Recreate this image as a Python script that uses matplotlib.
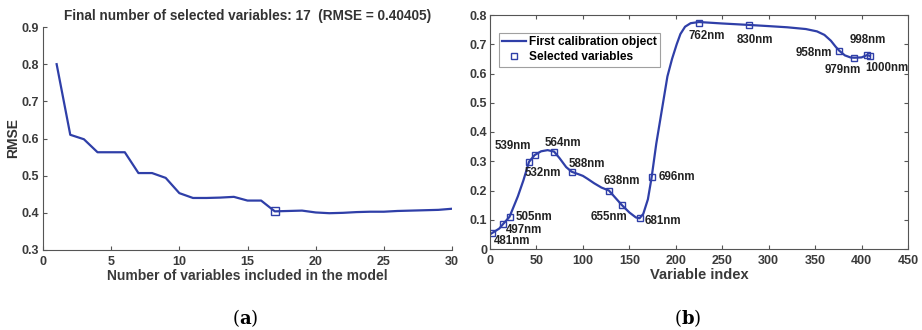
import matplotlib
matplotlib.use("Agg")
import matplotlib.pyplot as plt

# ---- Panel (a): RMSE vs. number of variables ----
n_vars = list(range(1, 31))
rmse = [0.800, 0.610, 0.598, 0.563, 0.563, 0.563, 0.507, 0.507, 0.494, 0.453,
        0.440, 0.440, 0.441, 0.443, 0.433, 0.433, 0.404, 0.405, 0.406, 0.401,
        0.399, 0.400, 0.402, 0.403, 0.403, 0.405, 0.406, 0.407, 0.408, 0.411]
final_n = 17
final_rmse = 0.40405

# ---- Panel (b): calibration spectrum and selected variables ----
spec_idx = [0, 2, 10, 14, 21, 30, 36, 42, 48, 55, 62, 69, 75, 82, 88, 95, 100,
            105, 112, 120, 128, 135, 142, 150, 157, 161, 165, 170, 174, 179,
            185, 191, 196, 201, 205, 210, 216, 225, 250, 279, 300, 320, 340,
            352, 360, 367, 372, 376, 382, 388, 392, 400, 406, 409]
spec_val = [0.050, 0.054, 0.070, 0.085, 0.110, 0.180, 0.235, 0.298, 0.321,
            0.334, 0.338, 0.333, 0.310, 0.280, 0.264, 0.256, 0.250, 0.240,
            0.225, 0.210, 0.200, 0.175, 0.150, 0.125, 0.108, 0.105, 0.120,
            0.170, 0.245, 0.360, 0.475, 0.590, 0.650, 0.700, 0.735, 0.760,
            0.772, 0.776, 0.771, 0.766, 0.762, 0.758, 0.752, 0.744, 0.732,
            0.712, 0.692, 0.678, 0.662, 0.655, 0.654, 0.655, 0.663, 0.660]

sel_idx = [2, 14, 21, 42, 48, 69, 88, 128, 142, 161, 174, 225, 279, 376, 392,
           406, 409]
sel_val = [0.054, 0.085, 0.110, 0.298, 0.321, 0.333, 0.264, 0.200, 0.150,
           0.105, 0.245, 0.774, 0.766, 0.678, 0.654, 0.663, 0.660]
sel_labels = ["481nm", "497nm", "505nm", "532nm", "539nm", "564nm", "588nm",
              "638nm", "655nm", "681nm", "696nm", "762nm", "830nm", "958nm",
              "979nm", "998nm", "1000nm"]

# label placement (offset in pixels, horizontal alignment)
label_layout = [((2, -8), "left"), ((3, -6), "left"), ((6, 0), "left"),
                ((-4, -11), "left"), ((-3, 9), "right"), ((-9, 9), "left"),
                ((-3, 8), "left"), ((-5, 10), "left"), ((5, -12), "right"),
                ((5, -3), "left"), ((7, 0), "left"), ((-11, -13), "left"),
                ((-13, -15), "left"), ((-7, -2), "right"), ((-11, -12), "center"),
                ((1, 15), "center"), ((-5, -12), "left")]

blue = "#2f3fa8"
grey = "#555555"
plt.rcParams["font.family"] = ["Liberation Sans", "DejaVu Sans"]
plt.rcParams["mathtext.fontset"] = "dejavuserif"

fig = plt.figure(figsize=(9.22, 3.30), dpi=100)

# Panel (a)
ax1 = fig.add_axes([43 / 922, 1 - 250 / 330, 409 / 922, 223 / 330])
ax1.plot(n_vars, rmse, color=blue, lw=1.6)
ax1.plot([final_n], [rmse[n_vars.index(final_n)]], marker="s", ms=5.5,
         mfc="none", mec=blue, mew=1.0, ls="none")
ax1.set_xlim(0, 30)
ax1.set_ylim(0.3, 0.9)
ax1.set_xticks(range(0, 31, 5))
ax1.set_yticks([0.3, 0.4, 0.5, 0.6, 0.7, 0.8, 0.9])
ax1.spines["top"].set_visible(False)
ax1.spines["right"].set_visible(False)
for s in ("left", "bottom"):
    ax1.spines[s].set_color(grey)
ax1.tick_params(direction="in", length=3, color=grey, labelsize=9,
                labelcolor="#3a3a3a")
ax1.tick_params(axis="x", pad=4)
ax1.tick_params(axis="y", pad=3)
for lab in ax1.get_xticklabels() + ax1.get_yticklabels():
    lab.set_fontweight("bold")
ax1.set_title(f"Final number of selected variables: {final_n}  (RMSE = {final_rmse:.5f})",
              fontsize=9.8, fontweight="bold", color="#333333", pad=5)
ax1.set_xlabel("Number of variables included in the model", fontsize=10,
               fontweight="bold", color="#3a3a3a", labelpad=1)
ax1.set_ylabel("RMSE", fontsize=10, fontweight="bold", color="#333333",
               labelpad=1)

# Panel (b)
ax2 = fig.add_axes([490 / 922, 1 - 249 / 330, 418 / 922, 234 / 330])
ax2.plot(spec_idx, spec_val, color=blue, lw=1.6,
         label="First calibration object")
ax2.plot(sel_idx, sel_val, marker="s", ms=5, mfc="none", mec=blue, mew=1.0,
         ls="none", label="Selected variables")
for x, y, t, (off, ha) in zip(sel_idx, sel_val, sel_labels, label_layout):
    ax2.annotate(t, (x, y), xytext=off, textcoords="offset pixels",
                 ha=ha, va="center", fontsize=8.3, fontweight="bold",
                 color="#222222")
ax2.set_xlim(0, 450)
ax2.set_ylim(0, 0.8)
ax2.set_xticks(range(0, 451, 50))
ax2.set_yticks([0, 0.1, 0.2, 0.3, 0.4, 0.5, 0.6, 0.7, 0.8])
ax2.set_yticklabels(["0", "0.1", "0.2", "0.3", "0.4", "0.5", "0.6", "0.7", "0.8"])
for s in ax2.spines.values():
    s.set_color(grey)
ax2.tick_params(direction="in", length=3, color=grey, labelsize=9,
                labelcolor="#3a3a3a", top=True, right=True)
ax2.tick_params(axis="x", pad=4)
ax2.tick_params(axis="y", pad=2)
for lab in ax2.get_xticklabels() + ax2.get_yticklabels():
    lab.set_fontweight("bold")
ax2.set_xlabel("Variable index", fontsize=10.5, fontweight="bold",
               color="#3a3a3a", labelpad=1)
leg = ax2.legend(loc="upper left", bbox_to_anchor=(0.021, 0.924),
                 borderaxespad=0, fancybox=False, edgecolor="#888888",
                 prop={"size": 8.6, "weight": "bold"}, handlelength=2.0,
                 handletextpad=0.2, borderpad=0.3, labelspacing=0.25)
leg.get_frame().set_linewidth(0.8)

# Panel letters
fig.text(245 / 922, 1 - 318 / 330, r"($\mathbf{a}$)", fontsize=13,
         family="DejaVu Serif", ha="center", va="center")
fig.text(688 / 922, 1 - 318 / 330, r"($\mathbf{b}$)", fontsize=13,
         family="DejaVu Serif", ha="center", va="center")

fig.savefig("out.png", dpi=100)
